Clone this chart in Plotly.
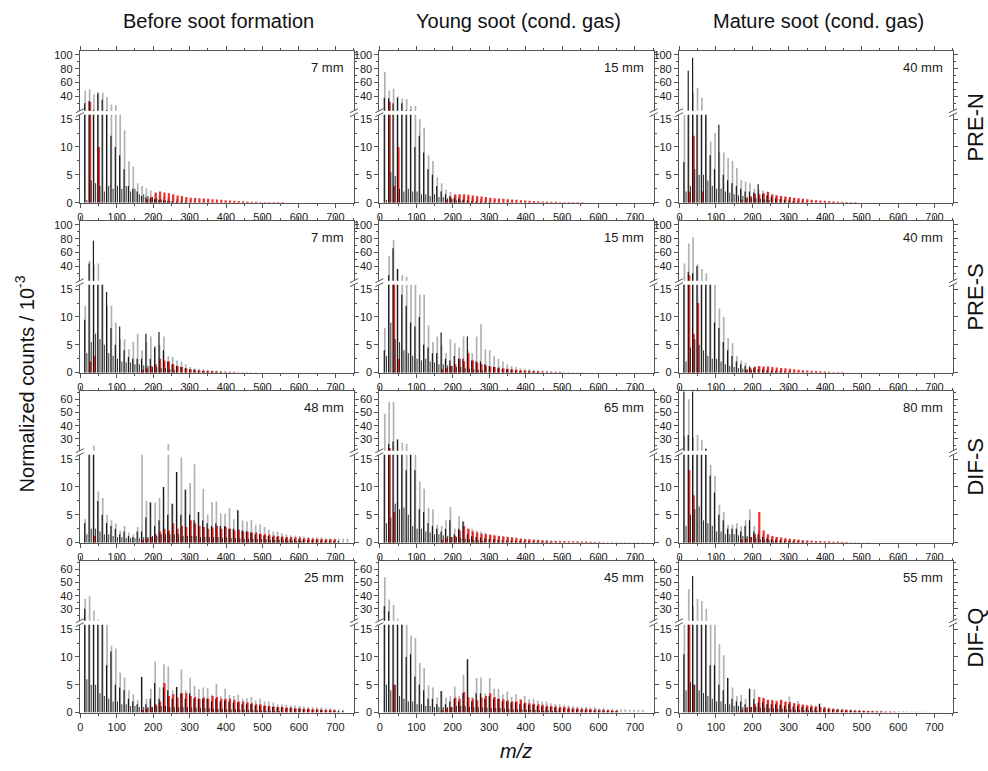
import plotly.graph_objects as go

W, H = 988, 771

# cluster positions (m/z)
mz = list(range(12, 733, 12))

# ---------------- PRE-N ----------------
g_pren_7 = [48, 50, 43, 46, 45, 39, 28, 27, 16, 13, 7.5, 6.5, 3.5, 3.0, 2.6, 2.2, 1.6, 1.3, 1.1, 0.9, 0.8, 0.7, 0.6, 0.5, 0.45, 0.4, 0.35, 0.3, 0.28, 0.25, 0.22, 0.2, 0.18, 0.16, 0.15, 0.13, 0.12, 0.1, 0.1, 0.1]
b_pren_7 = [30, 33, 20, 44, 35, 20, 12, 10, 8.5, 6, 3, 2.5, 2, 1.2, 1.0, 0.8, 0.6, 0.5, 0.4, 0.3, 0.25, 0.2, 0.15, 0.1]
r_pren_7 = [0, 32, 0, 10, 0, 0, 0, 0, 0, 0, 0, 0, 0, 0, 0.6, 1.0, 1.8, 2.0, 1.8, 1.7, 1.5, 1.3, 1.2, 1.0, 0.9, 0.85, 0.8, 0.75, 0.7, 0.6, 0.55, 0.5, 0.45, 0.4, 0.35, 0.3, 0.25, 0.2, 0.18, 0.15, 0.12, 0.1, 0.1, 0.1, 0.1, 0.1]
m_pren_7 = [0.5, 4, 3.5, 3, 2, 3, 2.5, 3, 2.5, 3, 2, 2.5, 1.5, 1.5, 1.2, 1, 0.8, 0.6, 0.4, 0.3]

g_pren_15 = [75, 48, 51, 40, 37, 36, 26, 26, 15, 13.5, 8.5, 7.5, 4.5, 3.5, 2.3, 1.9, 1.6, 1.3, 1.1, 1.0, 0.9, 0.8, 0.7, 0.6, 0.5, 0.45, 0.4, 0.35, 0.3, 0.28, 0.25, 0.22, 0.2, 0.18, 0.15, 0.13, 0.12, 0.1, 0.1, 0.1]
b_pren_15 = [38, 37, 30, 38, 30, 20, 20, 10, 12, 9, 6, 5, 3, 2, 1.5, 1.2, 0.9, 0.7, 0.5, 0.4, 0.3, 0.25, 0.2, 0.15, 0.1]
r_pren_15 = [0, 32, 3, 10, 0, 0, 0, 0, 0, 0, 0, 0, 0, 0, 0.5, 0.9, 1.4, 1.5, 1.5, 1.4, 1.3, 1.2, 1.1, 1.0, 0.9, 0.8, 0.75, 0.7, 0.6, 0.55, 0.5, 0.45, 0.4, 0.35, 0.3, 0.25, 0.22, 0.2, 0.18, 0.15, 0.12, 0.1, 0.1, 0.1, 0.1, 0.1]
m_pren_15 = [0.5, 5.5, 4.8, 2.5, 2, 2.5, 2, 2, 1.5, 1.5, 1.2, 1.5, 1.0, 1.0, 0.8, 0.6, 0.4, 0.3]

g_pren_40 = [16, 16, 45, 52, 38, 16, 11, 12.5, 9, 9, 8, 7.5, 6.2, 4, 3.8, 3.5, 2.5, 2.3, 2.2, 2.0, 1.6, 1.4, 1.2, 1.0, 0.8, 0.7, 0.6, 0.5, 0.4, 0.35, 0.3, 0.25, 0.2, 0.18, 0.15, 0.12, 0.1, 0.1]
b_pren_40 = [7.3, 77, 96, 16, 16, 16, 8.5, 6, 14, 5, 4, 3.5, 3, 2.5, 2, 2, 1.8, 3.3, 1.5, 1.3, 1.0, 0.8, 0.6, 0.5, 0.4, 0.3, 0.2, 0.15, 0.1]
r_pren_40 = [0, 2, 12, 0, 2, 0, 0, 0, 0, 0, 0, 0, 0, 0.5, 0.8, 1.2, 1.6, 1.5, 1.7, 1.9, 1.4, 1.3, 1.2, 1.1, 1.0, 0.9, 0.8, 0.7, 0.6, 0.5, 0.45, 0.4, 0.35, 0.3, 0.25, 0.2, 0.15, 0.12, 0.1, 0.1]
m_pren_40 = [2, 3, 6, 5, 5, 4, 3, 2.5, 2.5, 2, 1.8, 1.5, 1.3, 1.2, 1.0, 0.9, 0.8, 0.7, 0.6, 0.5]

# ---------------- PRE-S ----------------
g_pres_7 = [12, 48, 42, 44, 16, 12, 12, 9, 6, 6, 4.2, 5.5, 7.0, 4.0, 5.5, 6.5, 4.8, 5.0, 6.5, 3.0, 2.8, 2.2, 2.0, 1.5, 1.0, 0.8, 0.7, 0.6, 0.5, 0.45, 0.4, 0.35, 0.3, 0.25, 0.2, 0.2, 0.15, 0.12, 0.1, 0.1]
b_pres_7 = [9.5, 44, 77, 16, 16, 14.5, 8, 5, 8.3, 4, 2.8, 2.5, 2.5, 2.5, 7.0, 2.5, 4.5, 7.3, 4.0, 2.0, 1.5, 1.2, 1.0, 0.8, 0.6, 0.5, 0.4, 0.3, 0.25, 0.2, 0.15, 0.1]
r_pres_7 = [0, 2, 3, 0, 0, 0, 0, 0, 0, 0, 0, 0, 0, 0.5, 0.8, 1.2, 1.5, 2.5, 2.2, 2.0, 1.5, 1.2, 1.0, 0.8, 0.6, 0.5, 0.4, 0.35, 0.3, 0.25, 0.2, 0.15, 0.12, 0.1, 0.1]
m_pres_7 = [3.5, 5.5, 7, 6, 5, 3.5, 3, 2.5, 2, 1.8, 1.8, 1.5, 1.5, 1.3, 1.2, 1.0, 1.0, 0.8, 0.8, 0.6, 0.5]

g_pres_15 = [8, 55, 78, 36, 27, 25, 16, 16, 14, 14, 8.5, 5.5, 6.5, 5.0, 3.5, 6.0, 5.3, 4.5, 6.5, 4.0, 3.5, 6.5, 8.7, 4.2, 4.0, 3.0, 2.5, 2.0, 1.5, 1.2, 1.0, 0.8, 0.7, 0.6, 0.5, 0.45, 0.4, 0.35, 0.3, 0.25, 0.2, 0.18, 0.15, 0.12, 0.1, 0.1]
b_pres_15 = [4, 27, 66, 36, 14, 12, 9, 8.3, 10, 5, 4.5, 3.5, 3.5, 7.2, 2.5, 2.2, 3, 2.5, 2.5, 6.5, 2.2, 2.0, 2.0, 1.5, 1.2, 1.0, 0.8, 0.7, 0.6, 0.5, 0.4, 0.3, 0.25, 0.2, 0.15, 0.1]
r_pres_15 = [0, 0, 16, 2.5, 0, 0, 0, 0, 0, 0, 0, 0, 0, 0.6, 0.8, 1.2, 1.5, 2.5, 2.0, 3.5, 2.2, 1.8, 1.5, 1.3, 1.1, 1.0, 0.9, 0.8, 0.7, 0.6, 0.5, 0.45, 0.4, 0.35, 0.3, 0.25, 0.2, 0.15, 0.12, 0.1, 0.1]
m_pres_15 = [3, 9, 6, 5.5, 4, 3.5, 3, 2.5, 2.2, 2.5, 2, 1.8, 1.5, 1.5, 1.3, 1.2, 1.0, 1.0, 0.8, 0.7, 0.6, 0.5, 0.4]

g_pres_40 = [44, 73, 82, 43, 36, 30, 16, 16, 11.5, 10, 6.2, 5.3, 3.0, 2.2, 1.8, 1.3, 1.2, 1.0, 0.9, 0.8, 0.7, 0.6, 0.5, 0.45, 0.4, 0.35, 0.3, 0.25, 0.2, 0.18, 0.15, 0.12, 0.1, 0.1]
b_pres_40 = [16, 32, 30, 40, 16, 16, 16, 9, 8, 5.5, 4, 3, 2.0, 1.5, 1.2, 1.0, 0.8, 0.6, 0.5, 0.4, 0.3, 0.25, 0.2, 0.15, 0.1]
r_pres_40 = [0, 27, 7, 12.5, 0, 0, 0, 0, 0, 0, 0, 0, 0, 0, 0.5, 0.8, 1.0, 1.2, 1.1, 1.1, 1.0, 0.9, 0.85, 0.8, 0.7, 0.6, 0.5, 0.45, 0.4, 0.35, 0.3, 0.25, 0.2, 0.15, 0.12, 0.1, 0.1]
m_pres_40 = [2, 4.5, 6, 5, 4, 3, 2.5, 2.5, 2, 1.5, 1.2, 1.0, 0.8, 0.7, 0.6, 0.5]

# ---------------- DIF-S ----------------
g_difs_48 = [4.2, 16, 25, 9.2, 8, 5, 4, 3.5, 2.2, 3, 1.8, 1.5, 2.8, 16, 7.5, 7.2, 7.2, 8, 10, 26, 7, 12.7, 15.3, 9.5, 10.7, 14.1, 5.5, 9.7, 5, 7.3, 7.4, 5.3, 5.2, 6.2, 4.2, 5.8, 4.0, 3.8, 4.1, 3.2, 3.3, 2.8, 2.3, 2.0, 2.0, 1.7, 1.5, 1.3, 1.3, 1.2, 1.1, 1.0, 0.9, 0.9, 0.9, 0.8, 0.8, 0.8, 0.7, 0.7, 0.7]
b_difs_48 = [3.5, 16, 16, 7.5, 5, 3.5, 3, 2.5, 1.5, 2, 1.2, 1, 2, 2, 4.5, 7.2, 3, 4, 10, 5, 7, 12.7, 5, 9.5, 5, 4, 5.5, 4, 3.5, 3, 3.5, 3, 3, 2.5, 2.5, 5.8, 2.2, 2, 1.8, 1.5, 1.5, 1.3, 1.2, 1.0, 1.0, 0.9, 0.8, 0.7, 0.7, 0.6, 0.6, 0.5, 0.5, 0.5, 0.4, 0.4, 0.4, 0.3, 0.3]
r_difs_48 = [0, 0, 1.2, 0, 0, 0, 0, 0, 0, 0, 0, 0, 0, 0.5, 0.8, 1.0, 1.5, 2.0, 2.5, 2.2, 3.5, 2.5, 3.0, 2.8, 4.0, 3.5, 3.0, 2.8, 2.5, 2.7, 3.0, 2.5, 2.8, 2.5, 2.2, 2.3, 2.0, 2.0, 1.8, 1.8, 1.6, 1.5, 1.4, 1.3, 1.2, 1.1, 1.0, 1.0, 0.9, 0.9, 0.8, 0.8, 0.7, 0.7, 0.7, 0.6, 0.6, 0.6]
m_difs_48 = [1.5, 2.5, 2.5, 2, 1.5, 1.5, 1.2, 1, 1, 0.8, 0.8, 0.8, 0.8, 1, 1, 1.2, 1.2, 1.5, 1.5, 1.5, 1.5, 1.5, 1.2, 1.2, 1.2, 1.2, 1.0, 1.0, 1.0, 1.0, 1.0, 0.9, 0.9, 0.8, 0.8, 0.8, 0.7, 0.7, 0.7, 0.6, 0.6, 0.6, 0.5, 0.5, 0.5, 0.4, 0.4, 0.4, 0.3, 0.3]

g_difs_65 = [49, 58, 58, 29.5, 27, 26, 16, 16, 11, 9.7, 6.2, 6, 3.2, 3, 4, 6.4, 2.5, 4.8, 3.8, 2.5, 2.5, 2.2, 2.0, 1.8, 1.5, 1.4, 1.3, 1.2, 1.1, 1.0, 0.9, 0.8, 0.7, 0.7, 0.6, 0.6, 0.5, 0.5, 0.45, 0.4, 0.4, 0.35, 0.35, 0.3, 0.3, 0.3, 0.25, 0.25, 0.2, 0.2, 0.2, 0.2, 0.2, 0.15, 0.15, 0.15, 0.1, 0.1, 0.1, 0.1]
b_difs_65 = [16, 26, 28, 29.5, 16, 13, 16, 13, 6, 5.5, 3.5, 3, 2.5, 2, 2.5, 4, 1.5, 2.5, 3.8, 1.5, 1.2, 1.0, 0.9, 0.8, 0.7, 0.6, 0.5, 0.45, 0.4, 0.35, 0.3, 0.3, 0.25, 0.25, 0.2, 0.2, 0.15, 0.15, 0.1]
r_difs_65 = [0, 23, 5.5, 0, 0, 0, 0, 0, 0, 0, 0, 0, 0, 0.5, 0.8, 1.0, 1.2, 2.2, 3.0, 2.5, 2.0, 1.8, 1.6, 1.5, 1.4, 1.3, 1.2, 1.1, 1.0, 0.9, 0.8, 0.7, 0.6, 0.55, 0.5, 0.45, 0.4, 0.35, 0.3, 0.3, 0.25, 0.25, 0.2, 0.2, 0.2, 0.15, 0.15, 0.1, 0.1, 0.1]
m_difs_65 = [3.5, 4.5, 7, 6, 6.3, 5, 3, 2.5, 2.5, 2, 1.8, 1.5, 1.5, 1.3, 1.2, 1.0, 1.0, 0.8, 0.7, 0.6, 0.5, 0.4, 0.3]

g_difs_80 = [32, 60, 31, 33, 29, 22.5, 14, 12, 6.8, 5.5, 3.2, 3.2, 3.5, 3, 4, 6, 3, 2.2, 1.5, 1.3, 1.0, 0.9, 0.8, 0.7, 0.6, 0.55, 0.5, 0.45, 0.4, 0.35, 0.3, 0.3, 0.25, 0.25, 0.2, 0.2, 0.2, 0.15, 0.15, 0.15, 0.1, 0.1, 0.1]
b_difs_80 = [70, 33, 70, 16, 16, 22.5, 12, 9, 5, 4, 2.5, 2.5, 2.5, 2, 3, 4, 2, 1.5, 1.0, 0.8, 0.6, 0.5, 0.4, 0.35, 0.3, 0.25, 0.2, 0.15, 0.1]
r_difs_80 = [0, 13, 8.5, 0, 0, 0, 0, 0, 0, 0, 0, 0, 0, 0.5, 0.8, 1.0, 1.5, 5.5, 2.2, 1.5, 1.2, 1.0, 0.9, 0.8, 0.7, 0.6, 0.5, 0.45, 0.4, 0.35, 0.3, 0.25, 0.2, 0.2, 0.15, 0.15, 0.1, 0.1]
m_difs_80 = [3, 5, 6, 6.5, 4, 3.5, 3, 2, 2, 1.5, 1.5, 1.5, 1.3, 1.2, 1.2, 1.0, 0.8, 0.6, 0.5, 0.4, 0.3]

# ---------------- DIF-Q ----------------
g_difq_25 = [37.5, 39.6, 28.8, 22, 16, 16, 12, 11.5, 7.2, 6.3, 4, 3.3, 2.2, 6.4, 2.5, 4.3, 9.2, 4.5, 8.7, 8.3, 4, 4.6, 7.8, 4, 6.3, 4.8, 4.2, 4.5, 4.4, 3.2, 5.2, 3, 4.3, 3.2, 3.0, 3.2, 2.5, 2.6, 2.8, 2.2, 2.5, 2.0, 2.0, 1.8, 1.5, 1.5, 1.4, 1.3, 1.3, 1.2, 1.1, 1.0, 1.0, 0.9, 0.9, 0.8, 0.8, 0.7, 0.6, 0.5]
b_difq_25 = [30, 16, 16, 16, 16, 8.5, 11, 5, 4.5, 4, 2.5, 2, 1.5, 6.4, 1.5, 2.5, 5.3, 2.5, 4.5, 4.0, 2.5, 4.6, 3.5, 2.5, 3.5, 2.5, 2.5, 2.5, 2.5, 2.0, 2.5, 2.0, 2.2, 2.0, 1.8, 1.8, 1.5, 1.5, 1.5, 1.3, 1.3, 1.2, 1.1, 1.0, 0.9, 0.9, 0.8, 0.8, 0.7, 0.7, 0.6, 0.6, 0.5, 0.5, 0.5, 0.4, 0.4, 0.4, 0.3, 0.3]
r_difq_25 = [0, 0, 0, 0, 0, 0, 0, 0, 0, 0, 0, 0, 0, 0.5, 0.8, 1.0, 1.5, 2.0, 5.3, 3.0, 3.3, 2.7, 3.5, 3.5, 3.0, 2.8, 2.5, 2.7, 2.5, 3.0, 2.8, 2.5, 2.5, 2.5, 2.3, 2.0, 2.0, 1.8, 1.7, 1.5, 1.5, 1.3, 1.2, 1.1, 1.0, 1.0, 0.9, 0.9, 0.8, 0.8, 0.7, 0.7, 0.6, 0.6, 0.5, 0.5, 0.5, 0.4]
m_difq_25 = [6, 5, 5, 3.5, 3, 2.5, 2, 2, 1.5, 1.5, 1.2, 1.2, 1.0, 1.0, 1.0, 1.0, 1.2, 1.2, 1.2, 1.0, 1.0, 1.0, 1.0, 1.0, 0.9, 0.9, 0.8, 0.8, 0.8, 0.7, 0.7, 0.7, 0.6, 0.6, 0.6, 0.5, 0.5, 0.5, 0.4, 0.4, 0.4, 0.3, 0.3, 0.3, 0.3]

g_difq_45 = [54, 37, 33, 22.6, 16, 16, 13.8, 13.4, 8.9, 8, 4.9, 4.5, 2.7, 3.9, 2.7, 3.0, 4.7, 3.0, 6.8, 9.6, 2.8, 6.2, 6.3, 3.5, 6.2, 4.3, 4.3, 3.3, 3.8, 2.8, 3.3, 2.5, 3.0, 2.4, 2.5, 2.2, 2.0, 2.0, 1.7, 1.6, 1.5, 1.4, 1.3, 1.2, 1.1, 1.0, 1.0, 0.9, 0.9, 0.8, 0.8, 0.7, 0.7, 0.6, 0.6, 0.6, 0.5, 0.5, 0.5, 0.5]
b_difq_45 = [32, 28, 16, 16, 16, 10, 10.5, 6.5, 5, 4, 2.5, 2.5, 1.5, 3.9, 1.5, 2.0, 2.5, 2.0, 3.5, 9.6, 2.0, 3.5, 3.5, 2.5, 3.0, 2.5, 2.5, 2.0, 2.0, 1.8, 1.8, 1.5, 1.6, 1.4, 1.4, 1.2, 1.1, 1.0, 1.0, 0.9, 0.8, 0.8, 0.7, 0.6, 0.6, 0.5, 0.5, 0.5, 0.4, 0.4, 0.4, 0.3, 0.3, 0.3]
r_difq_45 = [0, 0, 5, 0, 0, 0, 0, 0, 0, 0, 0, 0, 0, 0.5, 0.8, 1.0, 2.7, 2.5, 3.7, 2.8, 2.5, 2.2, 2.7, 3.0, 3.5, 2.8, 2.5, 2.4, 2.2, 2.0, 2.0, 2.3, 1.8, 1.7, 1.6, 1.5, 1.4, 1.3, 1.2, 1.1, 1.0, 1.0, 0.9, 0.8, 0.8, 0.7, 0.7, 0.6, 0.6, 0.5, 0.5, 0.45, 0.4, 0.4]
m_difq_45 = [5, 4, 5, 3, 2.5, 2, 2, 1.5, 1.5, 1.2, 1.2, 1.0, 1.0, 1.0, 1.0, 1.0, 1.2, 1.2, 1.2, 1.0, 1.0, 1.0, 0.9, 0.9, 0.8, 0.8, 0.8, 0.7, 0.7, 0.6, 0.6, 0.6, 0.5, 0.5, 0.5, 0.4, 0.4, 0.4, 0.3, 0.3]

g_difq_55 = [16, 45, 32, 37.5, 36, 30, 16, 16, 12.3, 10.3, 6.2, 4.5, 3.0, 3.2, 2.5, 4.3, 4.2, 2.8, 2.7, 2.2, 2.3, 2.2, 2.2, 1.8, 2.9, 1.7, 2.1, 1.5, 1.4, 1.5, 1.3, 1.6, 1.1, 0.9, 0.8, 0.7, 0.7, 0.6, 0.6, 0.5, 0.5, 0.45, 0.4, 0.4, 0.35, 0.35, 0.3, 0.3, 0.3, 0.25, 0.25, 0.2, 0.2, 0.2, 0.15, 0.15, 0.15, 0.1, 0.1, 0.1]
b_difq_55 = [10.5, 16, 55, 16, 16, 16, 8.5, 8.5, 5, 4, 6.2, 2.5, 2, 2, 1.5, 4.3, 2.5, 1.8, 1.8, 1.5, 1.5, 1.5, 1.4, 1.2, 1.5, 1.1, 1.2, 1.0, 0.9, 0.9, 0.8, 1.6, 0.7, 0.6, 0.5, 0.5, 0.4, 0.4, 0.35, 0.3, 0.3, 0.25, 0.2, 0.2, 0.15, 0.15, 0.1]
r_difq_55 = [0, 16, 5, 0, 0, 0, 0, 0, 0, 0, 0, 0, 0, 0.5, 0.8, 1.0, 1.5, 2.8, 2.6, 2.3, 2.2, 2.0, 2.3, 2.0, 1.9, 1.7, 1.6, 1.4, 1.3, 1.2, 1.1, 1.0, 0.9, 0.8, 0.7, 0.6, 0.55, 0.5, 0.45, 0.4, 0.35, 0.3, 0.3, 0.25, 0.2, 0.2, 0.15, 0.15, 0.1]
m_difq_55 = [4, 5.5, 5, 4, 3.5, 3, 2.5, 2, 2, 1.5, 1.5, 1.2, 1.2, 1.0, 1.0, 1.0, 1.0, 0.9, 0.9, 0.8, 0.8, 0.7, 0.7, 0.6, 0.6, 0.5, 0.5, 0.4, 0.4, 0.3, 0.3]

col_titles = ["Before soot formation", "Young soot (cond. gas)", "Mature soot (cond. gas)"]
row_labels = ["PRE-N", "PRE-S", "DIF-S", "DIF-Q"]
distances = ["7 mm", "15 mm", "40 mm", "7 mm", "15 mm", "40 mm",
             "48 mm", "65 mm", "80 mm", "25 mm", "45 mm", "55 mm"]

panel_data = [
    (g_pren_7, b_pren_7, r_pren_7, m_pren_7),
    (g_pren_15, b_pren_15, r_pren_15, m_pren_15),
    (g_pren_40, b_pren_40, r_pren_40, m_pren_40),
    (g_pres_7, b_pres_7, r_pres_7, m_pres_7),
    (g_pres_15, b_pres_15, r_pres_15, m_pres_15),
    (g_pres_40, b_pres_40, r_pres_40, m_pres_40),
    (g_difs_48, b_difs_48, r_difs_48, m_difs_48),
    (g_difs_65, b_difs_65, r_difs_65, m_difs_65),
    (g_difs_80, b_difs_80, r_difs_80, m_difs_80),
    (g_difq_25, b_difq_25, r_difq_25, m_difq_25),
    (g_difq_45, b_difq_45, r_difq_45, m_difq_45),
    (g_difq_55, b_difq_55, r_difq_55, m_difq_55),
]

# ---------------- geometry (pixels) ----------------
col_left = [77, 377.5, 678]
col_w = 275
row_top = [49, 221, 393, 565]
up_h, gap, low_h = 60, 4, 89

def px(x):
    return x / W

def py(y):
    return 1 - y / H

FONT = "Liberation Sans, Arial, sans-serif"
AX = "#555555"
TXT = "#1a1a1a"

series_style = [  # (offset, color, width)
    (1.5, "rgba(0,0,0,0.3)", 1.7),
    (3.0, "rgba(235,0,0,0.8)", 2.2),
    (0.0, "rgba(0,0,0,0.88)", 1.2),
    (6.0, "rgba(0,0,0,0.8)", 1.0),
]

def stems(vals, off):
    xs, ys = [], []
    for k, v in zip(mz, vals):
        if v > 0:
            xs += [k + off, k + off, None]
            ys += [0, v, None]
    return xs, ys

fig = go.Figure()
layout = dict(
    width=W, height=H, margin=dict(l=0, r=0, t=0, b=0), autosize=False,
    paper_bgcolor="white", plot_bgcolor="white", showlegend=False,
    font=dict(family=FONT, color=TXT, size=12),
)
shapes = []
annotations = []

def axname(i, kind):
    return kind if i == 1 else f"{kind}{i}"

for p in range(12):
    r, c = divmod(p, 3)
    g, b, rd, mn = panel_data[p]
    lo, up = 2 * p + 1, 2 * p + 2
    x0, x1 = col_left[c], col_left[c] + col_w
    top = row_top[r]
    up_dom = [py(top + up_h), py(top)]
    lo_dom = [py(top + up_h + gap + low_h), py(top + up_h + gap)]
    pre = r < 2
    up_range = [19, 105] if pre else [21, 66]
    up_ticks = [40, 60, 80, 100] if pre else [30, 40, 50, 60]
    up_minor = [30, 50, 70, 90] if pre else [25, 35, 45, 55, 65]

    for (off, col, wd), vals in zip(series_style, [g, rd, b, mn]):
        xs, ys = stems(vals, off)
        for ax in (lo, up):
            fig.add_trace(go.Scatter(
                x=xs, y=ys, mode="lines", line=dict(color=col, width=wd),
                xaxis=axname(ax, "x"), yaxis=axname(ax, "y"),
                hoverinfo="skip", connectgaps=False))

    common_x = dict(domain=[px(x0), px(x1)], range=[-1.5, 751], showgrid=False,
                    zeroline=False, showline=True, linecolor=AX, linewidth=1,
                    ticks="outside", ticklen=4, tickcolor=AX, tickwidth=1,
                    tickmode="linear", tick0=0, dtick=100,
                    minor=dict(dtick=50, tick0=0, ticks="outside", ticklen=2, tickcolor=AX),
                    tickfont=dict(size=11, family=FONT, color=TXT))
    common_y = dict(showgrid=False, zeroline=False, showline=True, linecolor=AX,
                    linewidth=1, ticks="outside", ticklen=4, tickcolor=AX, tickwidth=1,
                    mirror="ticks", tickfont=dict(size=11, family=FONT, color=TXT))

    layout[axname(lo, "xaxis")] = dict(common_x, anchor=axname(lo, "y"), side="bottom")
    layout[axname(up, "xaxis")] = dict(common_x, anchor=axname(up, "y"), side="top",
                                       showticklabels=False)
    layout[axname(lo, "yaxis")] = dict(common_y, domain=lo_dom, anchor=axname(lo, "x"),
                                       range=[0, 15.8], tickmode="array",
                                       tickvals=[0, 5, 10, 15],
                                       minor=dict(tickmode="array", tickvals=[2.5, 7.5, 12.5],
                                                  ticks="outside", ticklen=2, tickcolor=AX))
    layout[axname(up, "yaxis")] = dict(common_y, domain=up_dom, anchor=axname(up, "x"),
                                       range=up_range, tickmode="array", tickvals=up_ticks,
                                       minor=dict(tickmode="array", tickvals=up_minor,
                                                  ticks="outside", ticklen=2, tickcolor=AX))

    # axis-break marks
    for xe in (x0, x1):
        for yb in (top + up_h, top + up_h + gap):
            shapes.append(dict(type="line", xref="paper", yref="paper",
                               x0=px(xe - 4), y0=py(yb + 2), x1=px(xe + 4), y1=py(yb - 2),
                               line=dict(color=AX, width=1)))

    annotations.append(dict(text=distances[p], x=px(x1 - 8), y=py(top + 16),
                            xref="paper", yref="paper", xanchor="right", yanchor="middle",
                            showarrow=False, font=dict(size=13, family=FONT, color=TXT)))

for c, t in enumerate(col_titles):
    annotations.append(dict(text=t, x=px(col_left[c] + col_w / 2 + 2), y=py(18),
                            xref="paper", yref="paper", xanchor="center", yanchor="middle",
                            showarrow=False, font=dict(size=20, family=FONT, color="#111111")))
for r, t in enumerate(row_labels):
    annotations.append(dict(text=t, x=px(975), y=py(row_top[r] + 77), textangle=-90,
                            xref="paper", yref="paper", xanchor="center", yanchor="middle",
                            showarrow=False, font=dict(size=22, family=FONT, color="#111111")))
annotations.append(dict(text="Normalized counts / 10<sup>-3</sup>", x=px(22), y=py(385),
                        textangle=-90, xref="paper", yref="paper", xanchor="center",
                        yanchor="middle", showarrow=False,
                        font=dict(size=20, family=FONT, color="#111111")))
annotations.append(dict(text="<i>m/z</i>", x=px(515), y=py(757), xref="paper", yref="paper",
                        xanchor="center", yanchor="middle", showarrow=False,
                        font=dict(size=20, family=FONT, color="#111111")))

layout["shapes"] = shapes
layout["annotations"] = annotations
fig.update_layout(**layout)
fig.write_html("out.html")
